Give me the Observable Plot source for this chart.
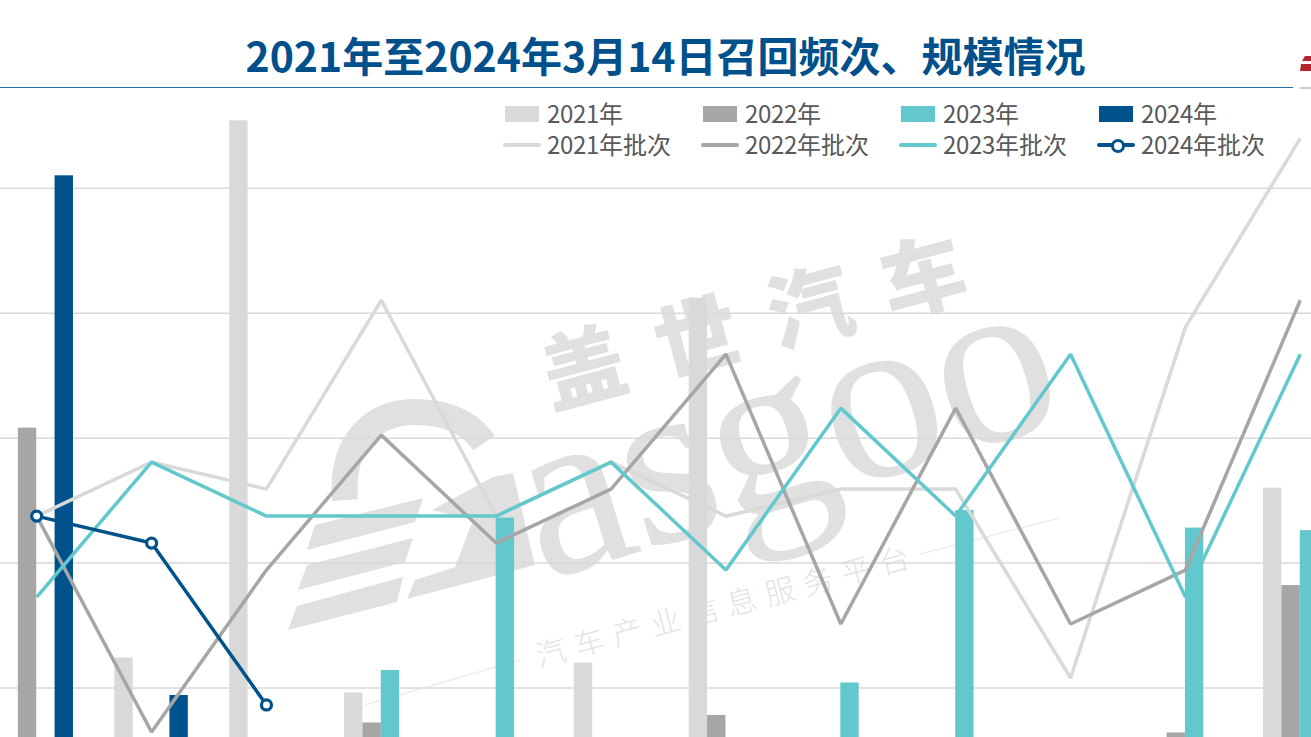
<!DOCTYPE html>
<html><head><meta charset="utf-8">
<script src="https://cdn.jsdelivr.net/npm/d3@7"></script>
<script src="https://cdn.jsdelivr.net/npm/@observablehq/plot@0.6"></script>
<style>
@font-face{font-family:"LegendCJK";src:local("Noto Sans CJK SC"),local("Noto Sans CJK SC Regular");ascent-override:100%;descent-override:20%;line-gap-override:0%}
html,body{margin:0;padding:0;background:#fff;overflow:hidden}
#page{position:relative;width:1311px;height:737px;overflow:hidden;font-family:"Noto Sans CJK SC","Noto Sans",sans-serif}
#title{position:absolute;left:0;top:0;width:1293px;height:87px;border-bottom:1.5px solid #1f6ea5;box-sizing:content-box;text-align:center;font-size:41px;font-weight:700;color:#00508c;line-height:109px;letter-spacing:0}
#title span{position:relative;left:19px}
#chart{position:absolute;left:0;top:88px;z-index:2}
#wm{position:absolute;left:0;top:0;z-index:1;color:#e0e0e0;white-space:nowrap}
#wm div{position:absolute;transform-origin:0 0}
#logoLine{position:absolute;left:1300px;top:87px;width:11px;height:1.5px;background:#ccc}
.lg{position:absolute;z-index:3;font-family:"LegendCJK","Noto Sans CJK SC",sans-serif;font-size:24px;color:#595959;line-height:30px;white-space:nowrap}
.sw{position:absolute;z-index:3}
</style></head><body>
<div id="page">
<div id="title"><span>2021年至2024年3月14日召回频次、规模情况</span></div>
<div id="logoLine"></div>
<svg style="position:absolute;left:1298px;top:52px" width="13" height="22"><polygon points="7,4 13,4 13,9 4,9" fill="#b5252e"/><polygon points="3,12 13,12 13,19 2,19" fill="#b5252e"/></svg>
<div id="wm">
  <svg style="position:absolute;left:0;top:0" width="1311" height="737">
    <g fill="none" stroke="#e0e0e0">
      <path d="M345,500 C340,440 375,412 415,412 C450,412 472,425 484,443" stroke-width="26"/>
      <line x1="365" y1="705" x2="520" y2="660" stroke="#eeeeee" stroke-width="1.5"/>
      <line x1="920" y1="554" x2="1060" y2="518" stroke="#eeeeee" stroke-width="1.5"/>
    </g>
    <g fill="#e0e0e0">
      <polygon points="315,525 423,498 415,522 307,550"/>
      <polygon points="307,565 413,538 405,562 298,590"/>
      <polygon points="297,606 403,577 397,602 288,630"/>
      <polygon points="432,510 493,477 513,473 535,565 407,599 415,580 455,567 473,520"/>
    </g>
  </svg>
  <div style="transform:rotate(-17deg);font:240px/1 'Liberation Serif',serif;letter-spacing:-2px;top:389px;left:484px">asgoo</div>
  <div style="left:531px;top:333px;transform:rotate(-15deg);font:900 84px/1 'Noto Sans CJK SC';letter-spacing:33px">盖世汽车</div>
  <div style="left:532px;top:640px;transform:rotate(-15deg);font:300 30px/1 'Noto Sans CJK SC';letter-spacing:9.5px;color:#e4e4e4">汽车产业信息服务平台</div>
</div>
<div id="chart"></div>
<div id="legend"></div>
</div>
<script>
const months = [1,2,3,4,5,6,7,8,9,10,11,12];
const years = ["2021年","2022年","2023年","2024年"];
const yearColors = ["#d9d9d9","#a6a6a6","#62c8cd","#00528c"];
const gridTicks = [50,100,150,200,250];
// recall scale per month (null: below the visible window)
const scale2021 = [null,62,277,48,null,60,206,null,null,null,null,130];
const scale2022 = [154,null,null,36,null,null,39,null,null,null,32,91];
const scale2023 = [30,null,null,57,118,null,null,52,121,null,114,113];
const scale2024 = [255,47,null];
// recall batches per month
const batch2021 = [11,13,12,19,11,13,11,12,12,5,18,25];
const batch2022 = [11,3,9,14,10,12,17,7,15,7,9,19];
const batch2023 = [8,13,11,11,11,13,9,15,11,17,8,17];
const batch2024 = [11,10,4];
const batchToScale = 10.8; // secondary axis ratio

const scaleSeries = [scale2021,scale2022,scale2023,scale2024];
const batchSeries = [batch2021,batch2022,batch2023,batch2024];
const barW = 0.16;
const bars = scaleSeries.flatMap((s,i)=>s.map((v,j)=>({m:months[j],year:years[i],v,i})).filter(d=>d.v!=null));
const lineMarks = batchSeries.map((s,i)=>Plot.line(s.map((v,j)=>({m:months[j],v:v*batchToScale})),{x:"m",y:"v",stroke:yearColors[i],strokeWidth:3.5,strokeLinejoin:"miter",strokeLinecap:"butt"}));

const plot = Plot.plot({
  width:1311,height:649,margin:0,
  style:{background:"transparent",overflow:"hidden"},
  x:{type:"linear",domain:[1,12],range:[36.2,1299.8],axis:null},
  y:{type:"linear",domain:[0,325],range:[724.4,-87.6],axis:null},
  color:{domain:years,range:yearColors},
  marks:[
    Plot.ruleY(gridTicks,{stroke:"#d9d9d9",strokeWidth:1.5}),
    Plot.rect(bars,{x1:d=>d.m+(d.i-2)*barW,x2:d=>d.m+(d.i-1)*barW,y1:0,y2:"v",fill:"year",inset:0}),
    ...lineMarks,
    Plot.dot(batch2024.map((v,j)=>({m:months[j],v:v*batchToScale})),{x:"m",y:"v",r:5,fill:"#fff",stroke:yearColors[3],strokeWidth:3.2})
  ]
});
document.getElementById("chart").append(plot);

const lg=document.getElementById("legend");
const xs=[505,703,901,1099];
years.forEach((y,i)=>{
  lg.insertAdjacentHTML("beforeend",`<div class="sw" style="left:${xs[i]}px;top:106px;width:34px;height:16px;background:${yearColors[i]}"></div>`);
  lg.insertAdjacentHTML("beforeend",`<div class="lg" style="left:${xs[i]+42}px;top:99px">${y}</div>`);
  lg.insertAdjacentHTML("beforeend",`<div class="sw" style="left:${xs[i]-2}px;top:143px;width:38px;height:3.5px;border-radius:2px;background:${yearColors[i]}"></div>`);
  lg.insertAdjacentHTML("beforeend",`<div class="lg" style="left:${xs[i]+42}px;top:130px">${y}批次</div>`);
});
lg.insertAdjacentHTML("beforeend",`<div class="sw" style="left:1111px;top:139px;width:8px;height:8px;border:3px solid ${yearColors[3]};border-radius:50%;background:#fff"></div>`);
</script>
</body></html>
